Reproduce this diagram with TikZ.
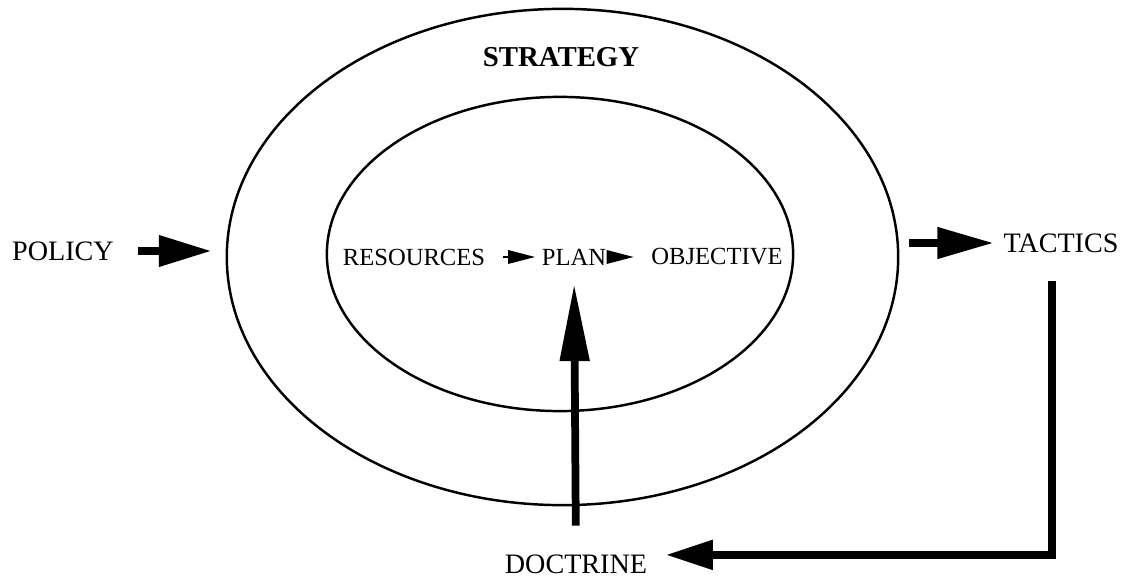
\documentclass[tikz,border=0pt]{standalone}
\usepackage{fontspec}
\setmainfont{Liberation Serif}
\usetikzlibrary{arrows.meta,shapes.geometric}

\begin{document}
\begin{tikzpicture}[x = 0.01cm, y = -0.01cm,
  label/.style = {inner sep = 0pt, font = \fontsize{8}{9}\selectfont},
  inlabel/.style = {inner sep = 0pt, font = \fontsize{7}{8}\selectfont},
  ring/.style = {ellipse, draw, line width = 0.7pt, inner sep = 0pt},
  fat/.style = {line width = 2.2pt},
  thin/.style = {line width = 0.6pt, -{Triangle[length = 7.7pt, width = 3.8pt]}}]
\useasboundingbox (0,0) rectangle (1126,579);
\node [ring, minimum width = 6.71cm, minimum height = 4.96cm] (outer) at (562.5,257) {};
\node [ring, minimum width = 4.66cm, minimum height = 3.14cm] (inner) at (560,254) {};
\node [label, font = \fontsize{8.2}{9}\selectfont\bfseries] (strategy) at (561,57) {STRATEGY};
\node [label] (policy) at (63,251) {POLICY};
\node [label] (tactics) at (1061,243) {TACTICS};
\node [label] (doctrine) at (576,564) {DOCTRINE};
\node [inlabel] (resources) at (414,257) {RESOURCES};
\node [inlabel] (plan) at (574,257) {PLAN};
\node [inlabel] (objective) at (717,257) {OBJECTIVE};
% chain inside the inner ring
\draw [thin, shorten < = 4.8pt, shorten > = 1.7pt] (resources.east) -- (plan.west);
\draw [thin, shorten < = 0.3pt, shorten > = 4.8pt] (plan.east) -- (objective.west);
% fat arrows in and out
\draw [fat, -{Triangle[length = 15pt, width = 8.5pt]}, shorten < = 6.8pt, shorten > = 4pt]
  (policy.east) -- (policy.east -| outer.west);
\draw [fat, -{Triangle[length = 16pt, width = 8.5pt]}, shorten < = 2.8pt, shorten > = 2.6pt]
  (outer.east |- tactics.west) -- (tactics.west);
\draw [fat, -{Triangle[length = 22pt, width = 8pt]}, shorten < = 8pt, shorten > = 5.1pt]
  (doctrine.north) -- (plan.south);
\draw [fat, -{Triangle[length = 13.4pt, width = 8pt]}, shorten < = 8pt, shorten > = 5.1pt]
  ([xshift = -2.6pt]tactics.south) |- ([yshift = 2.6pt]doctrine.east);
\end{tikzpicture}
\end{document}
